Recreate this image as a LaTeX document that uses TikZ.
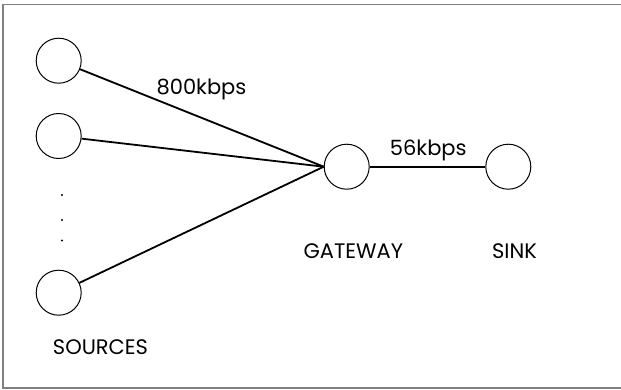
\documentclass[tikz,border=0pt]{standalone}
\usepackage{fontspec}
\setmainfont{Poppins}
\begin{document}
\begin{tikzpicture}[x=1pt,y=1pt,
  station/.style={circle,draw,line width=1pt,minimum size=45pt,inner sep=0pt},
  link/.style={line width=1.8pt},
  lbl/.style={font=\fontsize{21}{24}\selectfont,inner sep=0pt},
  dotmark/.style={circle,fill,inner sep=0pt,minimum size=2.4pt}]
\useasboundingbox (0,0) rectangle (621,389);
% frame (open on the right)
\draw[line width=1.6pt,color=black!50] (621,384.5) -- (3,384.5) -- (3,1) -- (621,1);
% stations
\node[station] (s1) at (58.7,328.3) {};
\node[station] (s2) at (58.7,253) {};
\node[station] (s3) at (58.7,96.3) {};
\node[station] (gw) at (346.7,222.3) {};
\node[station] (sk) at (508.3,222.3) {};
% ellipsis between sources
\node[dotmark] (d1) at (62,194) {};
\node[dotmark] (d2) at (62,169) {};
\node[dotmark] (d3) at (62,148.5) {};
% links
\draw[link] (s1) -- (gw.west);
\draw[link] (s2) -- (gw.west);
\draw[link] (s3) -- (gw.west);
\draw[link] (gw.east) -- (sk.west);
% labels
\node[lbl] (r1) at (201.5,300) {800kbps};
\node[lbl] (r2) at (428.3,239) {56kbps};
\node[lbl] (lg) at (353.3,138.3) {GATEWAY};
\node[lbl] (lk) at (514.5,138.3) {SINK};
\node[lbl] (ls) at (100.5,42.3) {SOURCES};
\end{tikzpicture}
\end{document}
